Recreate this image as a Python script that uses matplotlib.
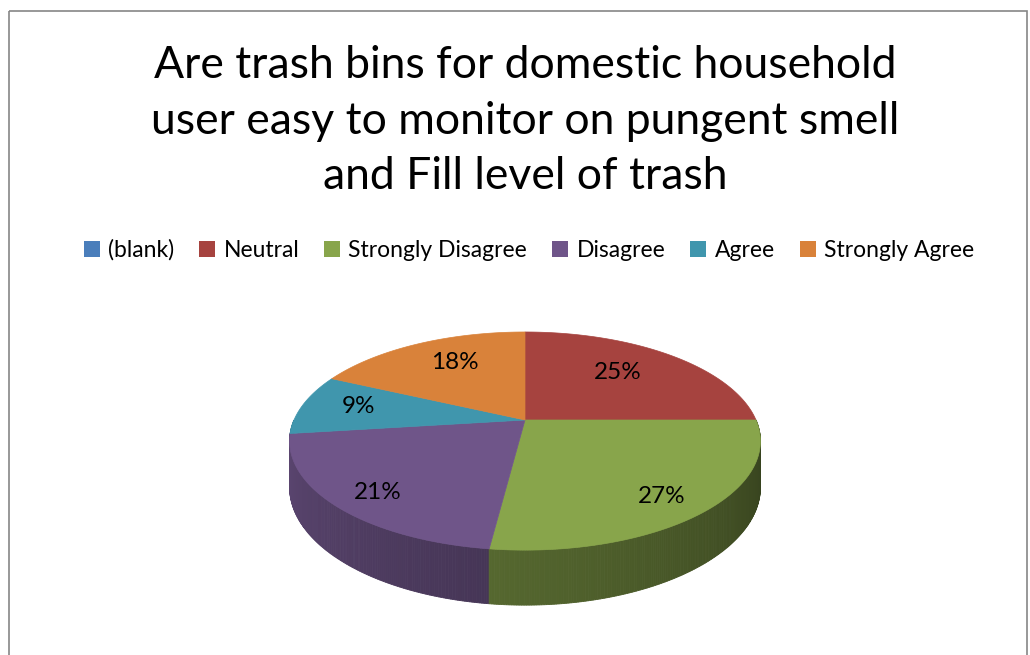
import numpy as np
import matplotlib.pyplot as plt
from matplotlib.patches import Polygon, Rectangle, Patch
from matplotlib.colors import to_rgb

plt.rcParams['font.family'] = ['Lato', 'DejaVu Sans']

title = 'Are trash bins for domestic household\nuser easy to monitor on pungent smell\nand Fill level of trash'
labels = ['(blank)', 'Neutral', 'Strongly Disagree', 'Disagree', 'Agree', 'Strongly Agree']
values = [0, 25, 27, 21, 9, 18]
colors = ['#4a7ebb', '#a6433f', '#88a54b', '#6f5589', '#4096ad', '#d9823a']

# pie geometry in pixel space (tilted disc with a bit of perspective)
cx, cy = 525, 420
rx, ry = 231, 105
persp = 0.193
depth = 44.4


def proj(r, th, down=0.0):
    X = r * np.cos(th)
    Y = r * np.sin(th)
    w = 1 + persp * Y
    return cx + rx * X / w, cy - ry * Y / w + down * depth / w


def shade(th):
    # side lighting: brighter on the left, darker to the right
    t = (np.degrees(th) + 169) / 158
    return 0.82 - 0.42 * np.clip(t, 0, 1)


fig = plt.figure(figsize=(10.3, 6.55), dpi=100)
ax = fig.add_axes([0, 0, 1, 1])
ax.set_xlim(0, 1030)
ax.set_ylim(655, 0)
ax.axis('off')

ax.add_patch(Rectangle((9, 11), 1018, 660, fill=False, edgecolor='#868686', lw=1.2))

total = sum(values)
start = 90.0
slices = []
for lab, val, col in zip(labels, values, colors):
    if val == 0:
        continue
    end = start - 360.0 * val / total
    slices.append((lab, val, col, np.radians(start), np.radians(end)))
    start = end

# side walls, drawn back to front
strips = []
for lab, val, col, a0, a1 in slices:
    lo, hi = min(a0, a1), max(a0, a1)
    for off in (0, 2 * np.pi, -2 * np.pi):
        s0 = max(lo + off, -np.pi)
        s1 = min(hi + off, 0)
        if s1 <= s0:
            continue
        n = max(int(np.degrees(s1 - s0) / 0.5), 1)
        edges = np.linspace(s0, s1, n + 1)
        for e0, e1 in zip(edges[:-1], edges[1:]):
            m = 0.5 * (e0 + e1)
            strips.append((np.sin(m), e0, e1, col, shade(m)))

strips.sort(key=lambda s: -s[0])
for _, e0, e1, col, f in strips:
    x0, y0 = proj(1, e0)
    x1, y1 = proj(1, e1)
    x2, y2 = proj(1, e1, 1)
    x3, y3 = proj(1, e0, 1)
    c = tuple(np.array(to_rgb(col)) * f)
    ax.add_patch(Polygon([(x0, y0), (x1, y1), (x2, y2), (x3, y3)],
                         closed=True, facecolor=c, edgecolor=c, lw=0.6))

# top faces
for lab, val, col, a0, a1 in slices:
    th = np.linspace(a0, a1, 200)
    xs, ys = proj(1, th)
    pts = [(cx, cy)] + list(zip(xs, ys))
    ax.add_patch(Polygon(pts, closed=True, facecolor=col, edgecolor=col, lw=0.5))

# percentage labels
for lab, val, col, a0, a1 in slices:
    m = 0.5 * (a0 + a1)
    pct = 100.0 * val / total
    r = 0.7 - 0.12 * np.sin(m) + 0.004 * max(25 - pct, 0)
    lx, ly = proj(r, m)
    ly -= 8 * np.sin(m)
    ax.text(lx, ly, f'{val / total:.0%}', ha='center', va='center', fontsize=17.5, color='black')

ax.text(525, 121, title, ha='center', va='center', fontsize=32, linespacing=1.45)

handles = [Patch(facecolor=c, edgecolor='none') for c in colors]
fig.legend(handles, labels, loc='center', bbox_to_anchor=(529 / 1030, 1 - 250 / 655),
           ncol=6, frameon=False, fontsize=16.5, handlelength=0.7, handleheight=0.7,
           handletextpad=0.35, columnspacing=1.1)

fig.savefig('out.png', dpi=100)
